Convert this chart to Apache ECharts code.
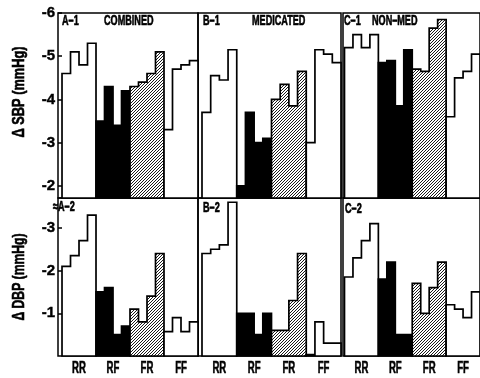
<!DOCTYPE html>
<html><head><meta charset="utf-8">
<script src="https://cdn.jsdelivr.net/npm/echarts@6/dist/echarts.min.js"></script>
<style>html,body{margin:0;padding:0;background:#fff}#c{width:480px;height:378px}</style>
</head><body><div id="c"></div>
<script>
// ---- data ----
const groups = ['RR', 'RF', 'FR', 'FF'];
const groupCenters = [0.5, 1.5, 2.5, 3.5];
const sbpTicks = [-6, -5, -4, -3, -2];
const dbpTicks = [-3, -2, -1];
// ΔSBP (mmHg): 4 consecutive bars in each of RR, RF, FR, FF
const sbpCombined  = [-4.6, -5.1, -4.8, -5.3,  -3.5, -4.3, -3.4, -4.2,  -4.3, -4.4, -4.6, -5.1,  -3.3, -4.7, -4.8, -4.9];
const sbpMedicated = [-3.7, -4.55, -4.45, -5.15, -2.0, -3.7, -3.0, -3.1, -4.0, -4.35, -3.85, -4.65, -3.0, -5.15, -5.05, -4.85];
const sbpNonMed    = [-5.2, -5.5, -5.2, -5.5,  -4.85, -4.9, -3.85, -5.15, -4.7, -4.65, -5.65, -5.85, -3.6, -4.5, -4.65, -5.05];
// ΔDBP (mmHg)
const dbpCombined  = [-2.1, -2.35, -2.7, -3.3,  -1.5, -1.6, -0.5, -0.7,  -1.1, -0.8, -1.4, -2.4,  -0.57, -0.9, -0.57, -0.8];
const dbpMedicated = [-2.4, -2.5, -2.6, -3.6,  -1.0, -1.0, -0.5, -1.0,  -0.6, -0.6, -1.3, -2.4,  -0.03, -0.8, -0.3, -0.3];
const dbpNonMed    = [-1.85, -2.3, -2.7, -3.1, -1.8, -2.2, -0.5, -0.5,  -1.7, -1.0, -1.6, -2.2,  -1.2, -1.1, -0.9, -1.5];

// ---- rendering ----
const FONT = '"Liberation Sans",Arial,sans-serif';
function hatch() {
  const c = document.createElement('canvas'); c.width = 3; c.height = 3;
  const ctx = c.getContext('2d');
  ctx.fillStyle = '#fff'; ctx.fillRect(0, 0, 3, 3);
  ctx.strokeStyle = '#000'; ctx.lineWidth = 0.9;
  ctx.beginPath();
  ctx.moveTo(0, 3); ctx.lineTo(3, 0);
  ctx.moveTo(-1, 1); ctx.lineTo(1, -1);
  ctx.moveTo(2, 4); ctx.lineTo(4, 2);
  ctx.stroke();
  return c;
}
const hatchFill = { image: hatch(), repeat: 'repeat' };
const fills = ['#fff', '#000', hatchFill, '#fff'];

function toRows(arr) {
  return groups.map((g, i) => [i, arr[i * 4], arr[i * 4 + 1], arr[i * 4 + 2], arr[i * 4 + 3]]);
}
function renderItem(params, api) {
  const g = api.value(0);
  const cs = params.coordSys;
  const base = cs.y + cs.height;
  const pts = [];
  for (let k = 0; k < 4; k++) {
    const v = api.value(k + 1);
    const a = api.coord([g + k / 4, v]);
    const b = api.coord([g + (k + 1) / 4, v]);
    if (k === 0) pts.push([a[0], base]);
    pts.push(a, b);
    if (k === 3) pts.push([b[0], base]);
  }
  return { type: 'polygon', shape: { points: pts },
    style: { fill: fills[g], stroke: '#000', lineWidth: 1.7 } };
}

const panels = [
  { data: sbpCombined,  left: 58,  width: 140, xmin: -0.118, row: 0 },
  { data: sbpMedicated, left: 198, width: 143, xmin: -0.115, row: 0 },
  { data: sbpNonMed,    left: 343, width: 139, xmin: -0.044, row: 0 },
  { data: dbpCombined,  left: 58,  width: 140, xmin: -0.118, row: 1 },
  { data: dbpMedicated, left: 198, width: 143, xmin: -0.115, row: 1 },
  { data: dbpNonMed,    left: 343, width: 139, xmin: -0.044, row: 1 }
];
const rows = [
  { top: 13,  height: 185, min: -6,   max: -1.72, ticks: sbpTicks },
  { top: 198, height: 158, min: -3.7, max: 0,     ticks: dbpTicks }
];

const grid = [], xAxis = [], yAxis = [], series = [];
panels.forEach((p, i) => {
  const r = rows[p.row];
  const first = (i % 3) === 0;
  grid.push({ left: p.left, top: r.top, width: p.width, height: r.height,
    show: true, borderColor: '#000', borderWidth: 1.5, backgroundColor: 'transparent', containLabel: false });
  xAxis.push({ type: 'value', gridIndex: i, min: p.xmin, max: 4,
    axisLine: { show: false }, axisTick: { show: false }, splitLine: { show: false },
    axisLabel: { show: false } });
  yAxis.push({ type: 'value', gridIndex: i, inverse: true, min: r.min, max: r.max,
    axisLine: { show: false }, splitLine: { show: false },
    axisTick: { show: first, customValues: r.ticks, length: 4, lineStyle: { color: '#000', width: 1.5 } },
    axisLabel: { show: first, customValues: r.ticks, color: '#000', fontFamily: FONT, fontWeight: 'bold', fontSize: 15, margin: 3,
      textBorderColor: '#000', textBorderWidth: 0.4 } });
  series.push({ type: 'custom', xAxisIndex: i, yAxisIndex: i, renderItem: renderItem,
    data: toRows(p.data), encode: { x: 0, y: [1, 2, 3, 4] }, animation: false, silent: true });
});

const SX = 0.65;
const labels = [
  ['A\u20131', 62, 21], ['COMBINED', 104, 21],
  ['B\u20131', 203, 21], ['MEDICATED', 252, 21],
  ['C\u20131', 344, 21], ['NON\u2013MED', 372, 21],
  ['\u2248A\u20132', 53, 207], ['B\u20132', 203, 208], ['C\u20132', 345, 209]
];
const heavy = { stroke: '#000', lineWidth: 0.6 };
const graphic = labels.map(l => ({ type: 'text', x: l[1], y: l[2], scaleX: SX,
  style: Object.assign({ text: l[0], font: 'bold 14px ' + FONT, fill: '#000', verticalAlign: 'middle', align: 'left' }, heavy) }));
graphic.push({ type: 'text', x: 20, y: 92, rotation: Math.PI / 2, scaleX: 0.8,
  style: Object.assign({ text: '\u0394 SBP (mmHg)', font: 'bold 16px ' + FONT, fill: '#000', align: 'center', verticalAlign: 'middle' }, heavy) });
graphic.push({ type: 'text', x: 20, y: 277, rotation: Math.PI / 2, scaleX: 0.76,
  style: Object.assign({ text: '\u0394 DBP (mmHg)', font: 'bold 16px ' + FONT, fill: '#000', align: 'center', verticalAlign: 'middle' }, heavy) });

const chart = echarts.init(document.getElementById('c'), null, { renderer: 'canvas' });
chart.setOption({ animation: false, backgroundColor: '#fff', grid, xAxis, yAxis, series, graphic });

// category labels under the lower panels, positioned through each panel's x axis
const catLabels = [];
[3, 4, 5].forEach(ai => {
  groupCenters.forEach((c, gi) => {
    const px = chart.convertToPixel({ xAxisIndex: ai }, c);
    catLabels.push({ type: 'text', x: px, y: 369, scaleX: 0.6,
      style: Object.assign({ text: groups[gi], font: 'bold 16px ' + FONT, fill: '#000', align: 'center', verticalAlign: 'middle' }, heavy) });
  });
});
chart.setOption({ graphic: graphic.concat(catLabels) });
</script></body></html>
